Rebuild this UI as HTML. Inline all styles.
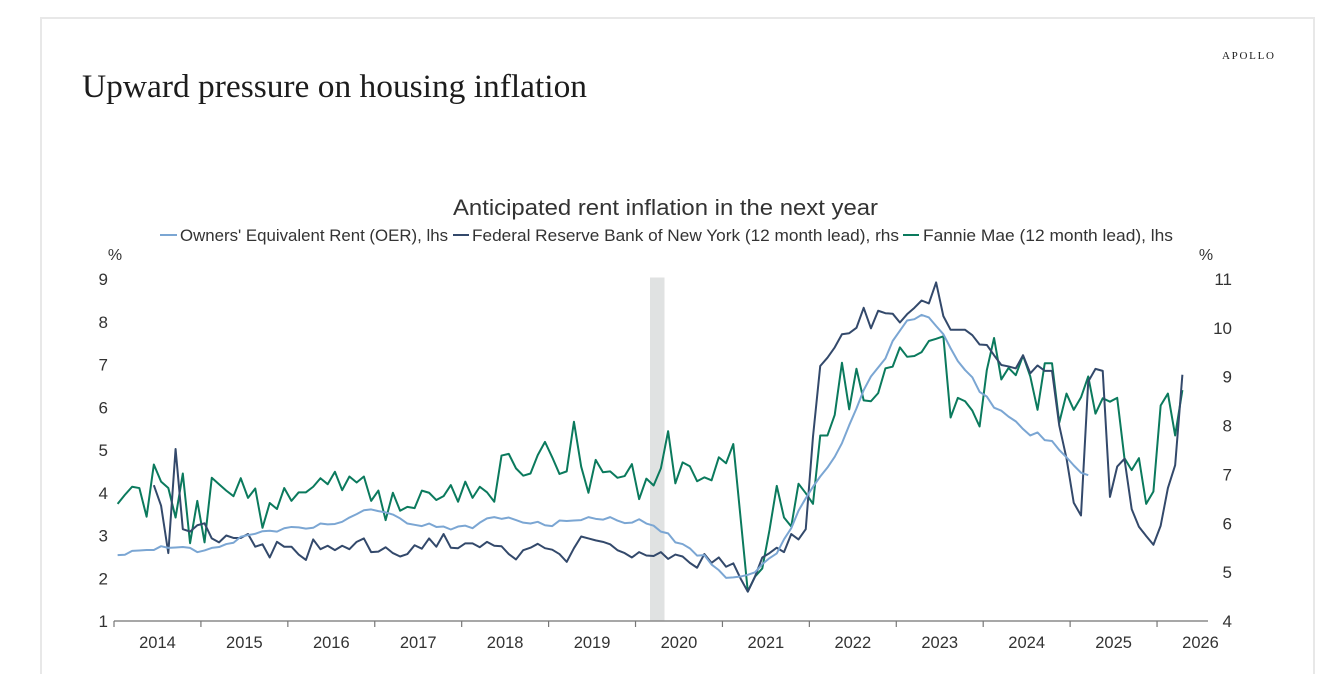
<!DOCTYPE html>
<html lang="en">
<head>
<meta charset="utf-8">
<title>Upward pressure on housing inflation</title>
<style>
html,body{margin:0;padding:0;background:#fff;width:1322px;height:674px;overflow:hidden}
svg{display:block}
.sans{font-family:"Liberation Sans",sans-serif;fill:#333}
.serif{font-family:"Liberation Serif",serif;fill:#1c1c1c}
</style>
</head>
<body>
<svg id="chart" xmlns="http://www.w3.org/2000/svg" width="1322" height="674" viewBox="0 0 1322 674">
  <rect x="41" y="18" width="1273" height="680" fill="#fff" stroke="#e8e8e8" stroke-width="2"/>
  <text class="serif" x="82" y="97" font-size="33" textLength="505" lengthAdjust="spacingAndGlyphs">Upward pressure on housing inflation</text>
  <text class="serif" x="1222" y="59" font-size="11" textLength="52" fill="#333">APOLLO</text>
  <text class="sans" x="453" y="215" font-size="22" textLength="425" lengthAdjust="spacingAndGlyphs">Anticipated rent inflation in the next year</text>
  <g>
    <line x1="160" x2="177" y1="235" y2="235" stroke="#7ba6d3" stroke-width="2"/>
    <text class="sans" x="180" y="241" font-size="17" textLength="268" lengthAdjust="spacingAndGlyphs">Owners' Equivalent Rent (OER), lhs</text>
    <line x1="453" x2="469" y1="235" y2="235" stroke="#33496b" stroke-width="2"/>
    <text class="sans" x="472" y="241" font-size="17" textLength="427" lengthAdjust="spacingAndGlyphs">Federal Reserve Bank of New York (12 month lead), rhs</text>
    <line x1="903" x2="919" y1="235" y2="235" stroke="#0b7a5d" stroke-width="2"/>
    <text class="sans" x="923" y="241" font-size="17" textLength="250" lengthAdjust="spacingAndGlyphs">Fannie Mae (12 month lead), lhs</text>
  </g>
  <text class="sans" x="115" y="260" font-size="16" text-anchor="middle">%</text>
  <text class="sans" x="1206" y="260" font-size="16" text-anchor="middle">%</text>
  <g id="plot"></g>
</svg>
<script>
const years = ['2014','2015','2016','2017','2018','2019','2020','2021','2022','2023','2024','2025','2026'];
const leftTicks = [1,2,3,4,5,6,7,8,9];
const rightTicks = [4,5,6,7,8,9,10,11];
const recessionMonths = [74,76];
const oerValues = [
2.54,2.55,2.64,2.65,2.66,2.66,2.75,2.71,2.72,2.73,2.71,2.61,
2.65,2.71,2.73,2.80,2.83,2.97,3.01,3.04,3.10,3.11,3.09,3.17,
3.20,3.19,3.16,3.18,3.28,3.26,3.27,3.32,3.42,3.50,3.59,3.61,
3.57,3.54,3.49,3.40,3.28,3.25,3.22,3.28,3.20,3.21,3.14,3.21,
3.23,3.17,3.30,3.40,3.43,3.39,3.42,3.36,3.30,3.28,3.32,3.24,
3.22,3.35,3.34,3.35,3.36,3.43,3.39,3.37,3.43,3.35,3.29,3.30,
3.38,3.28,3.23,3.09,3.05,2.84,2.80,2.70,2.53,2.54,2.32,2.19,
2.01,2.02,2.04,2.08,2.14,2.33,2.47,2.58,2.91,3.17,3.58,3.87,
4.14,4.38,4.59,4.84,5.16,5.58,5.97,6.40,6.72,6.93,7.14,7.55,
7.79,8.03,8.06,8.16,8.10,7.90,7.71,7.38,7.08,6.87,6.70,6.36,
6.25,5.99,5.92,5.78,5.67,5.49,5.34,5.41,5.23,5.21,5.00,4.83,4.64,4.47,4.41];
const nyfedValues = [
null,null,null,null,null,6.78,6.36,5.39,7.52,5.88,5.83,5.96,
6.00,5.69,5.61,5.75,5.70,5.70,5.78,5.52,5.57,5.30,5.62,5.52,
5.52,5.36,5.25,5.67,5.47,5.54,5.45,5.54,5.47,5.62,5.69,5.41,
5.42,5.51,5.39,5.32,5.37,5.55,5.48,5.69,5.52,5.78,5.50,5.49,
5.59,5.59,5.51,5.62,5.54,5.53,5.37,5.26,5.45,5.50,5.58,5.49,
5.46,5.37,5.21,5.49,5.73,5.69,5.65,5.62,5.57,5.45,5.39,5.30,
5.41,5.34,5.33,5.41,5.27,5.36,5.32,5.19,5.09,5.37,5.19,5.30,
5.11,5.18,4.87,4.60,4.91,5.30,5.39,5.50,5.41,5.78,5.67,5.88,
7.77,9.22,9.39,9.60,9.87,9.89,10.00,10.41,9.99,10.35,10.30,10.29,
10.11,10.28,10.41,10.56,10.50,10.93,10.24,9.96,9.96,9.96,9.85,9.66,
9.65,9.44,9.24,9.21,9.17,9.44,9.07,9.23,9.12,9.12,8.00,7.33,
6.42,6.16,8.90,9.16,9.12,6.54,7.16,7.32,6.29,5.93,5.74,5.56,5.95,6.72,7.19,9.04];
const fannieValues = [
3.74,3.95,4.14,4.11,3.44,4.66,4.26,4.11,3.42,4.45,2.82,3.81,
2.84,4.35,4.20,4.05,3.92,4.34,3.88,4.10,3.18,3.76,3.62,4.11,
3.81,4.01,4.01,4.14,4.34,4.20,4.49,4.06,4.38,4.24,4.38,3.81,
4.05,3.36,4.00,3.58,3.67,3.64,4.05,4.00,3.83,3.92,4.18,3.79,
4.26,3.88,4.14,4.01,3.79,4.87,4.91,4.57,4.40,4.45,4.88,5.19,
4.83,4.44,4.50,5.66,4.61,4.00,4.77,4.48,4.50,4.35,4.39,4.67,
3.85,4.33,4.17,4.57,5.44,4.22,4.71,4.62,4.27,4.36,4.29,4.83,
4.69,5.14,3.42,1.69,2.04,2.23,3.13,4.16,3.42,3.21,4.21,3.99,
3.74,5.34,5.34,5.82,7.04,5.95,6.90,6.16,6.14,6.33,6.91,6.95,
7.40,7.18,7.20,7.29,7.55,7.60,7.66,5.76,6.22,6.14,5.92,5.55,
6.87,7.62,6.65,6.92,6.75,7.21,6.72,5.94,7.03,7.03,5.64,6.32,
5.94,6.23,6.72,5.85,6.21,6.13,6.22,4.81,4.53,4.81,3.74,4.03,6.04,6.32,5.34,6.40];

const NS = 'http://www.w3.org/2000/svg';
const plot = document.getElementById('plot');
const axisLeft = 114, axisRight = 1208, yearWidth = 86.92, baseY = 621, topY = 279;
const monthWidth = yearWidth / 12;
function xEdge(m){ return axisLeft + m * monthWidth; }
function xMid(m){ return xEdge(m + 0.5); }
function yLeft(v){ return baseY - (v - leftTicks[0]) / (leftTicks[leftTicks.length-1] - leftTicks[0]) * (baseY - topY); }
function yRight(v){ return baseY - (v - rightTicks[0]) / (rightTicks[rightTicks.length-1] - rightTicks[0]) * (baseY - topY); }
function make(tag, attrs, text){
  const el = document.createElementNS(NS, tag);
  for (const k in attrs) el.setAttribute(k, attrs[k]);
  if (text !== undefined) el.textContent = text;
  plot.appendChild(el);
  return el;
}
function linePath(values, yFn){
  let d = '';
  values.forEach(function(v, i){
    if (v === null) return;
    d += (d ? 'L' : 'M') + xMid(i).toFixed(2) + ' ' + yFn(v).toFixed(2);
  });
  return d;
}

const band = make('rect', {x:xEdge(recessionMonths[0]), y:277.5, width:xEdge(recessionMonths[1])-xEdge(recessionMonths[0]), height:baseY-277.5, fill:'#e0e2e2'});



const axis = make('line', {x1:axisLeft, x2:axisRight, y1:baseY, y2:baseY, stroke:'#8a8a8a', 'stroke-width':1.6});



years.forEach(function(label, i){
  const tx = axisLeft + i * yearWidth;
  const tick = make('line', {x1:tx, x2:tx, y1:baseY, y2:baseY+6, stroke:'#777', 'stroke-width':1.2});
  
  
  const t = make('text', {x:tx + yearWidth/2, y:648, 'text-anchor':'middle', 'font-size':16.5, class:'sans'}, label);
  
  
});
leftTicks.forEach(function(v){
  const t = make('text', {x:108, y:yLeft(v)+6, 'text-anchor':'end', 'font-size':17, class:'sans'}, String(v));
  
  
});
rightTicks.forEach(function(v){
  const t = make('text', {x:1232, y:yRight(v)+6, 'text-anchor':'end', 'font-size':17, class:'sans'}, String(v));
  
  
});

const fannieLine = make('path', {d:linePath(fannieValues, yLeft), fill:'none', stroke:'#0b7a5d', 'stroke-width':2, 'stroke-linejoin':'round'});


const nyfedLine = make('path', {d:linePath(nyfedValues, yRight), fill:'none', stroke:'#33496b', 'stroke-width':2, 'stroke-linejoin':'round'});


const oerLine = make('path', {d:linePath(oerValues, yLeft), fill:'none', stroke:'#7ba6d3', 'stroke-width':2, 'stroke-linejoin':'round'});


</script>
</body>
</html>
